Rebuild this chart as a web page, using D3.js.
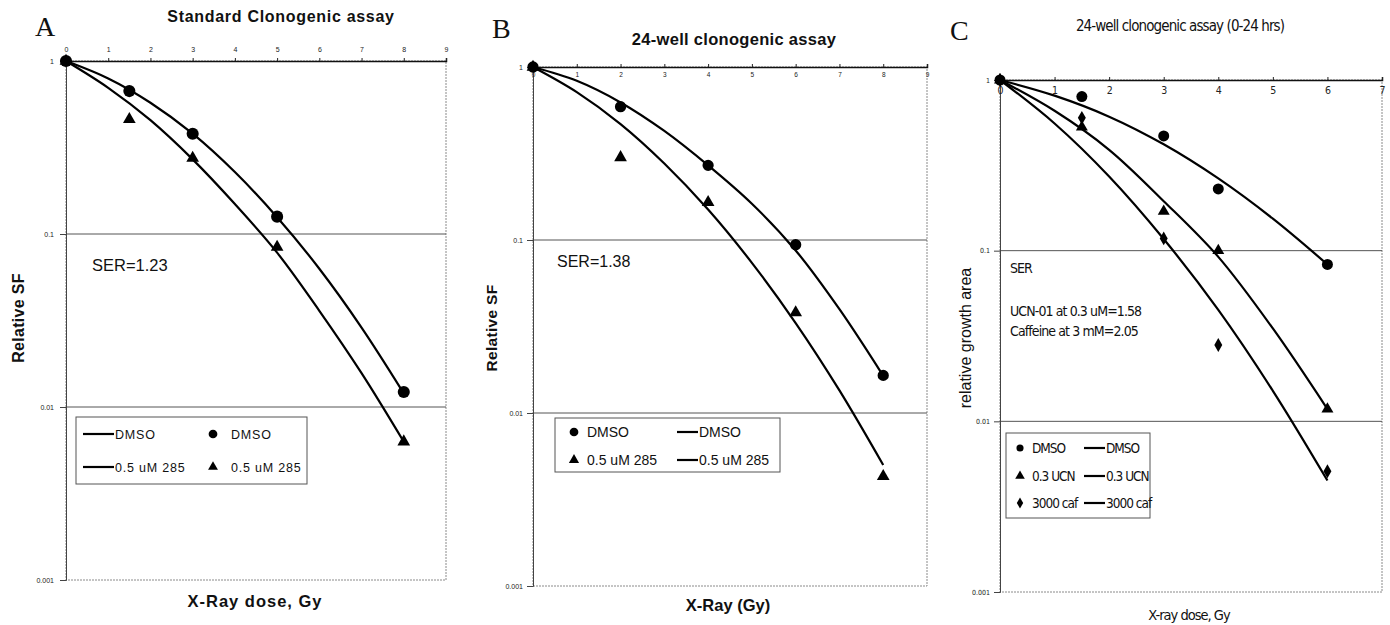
<!DOCTYPE html>
<html><head><meta charset="utf-8">
<script src="https://cdn.jsdelivr.net/npm/d3@7"></script>
<style>
body{margin:0;background:#fff;}
svg{display:block;}
</style></head>
<body>
<svg id="c" width="1390" height="625"></svg>
<script>
// ---------- DATA ----------
const yTicks = [1, 0.1, 0.01, 0.001];
const yTickLabels = ["1", "0.1", "0.01", "0.001"];

// Panel A
const xTicksA = [0,1,2,3,4,5,6,7,8,9];
const dosesA = [0, 1.5, 3, 5, 8];
const aDmso = [1, 0.67, 0.38, 0.126, 0.0122];
const a285 = [1, 0.46, 0.275, 0.084, 0.0063];
const fitDoseA = [0,1,2,3,4,5,6,7,8];
const aDmsoFit = [1, 0.793, 0.574, 0.38, 0.228, 0.125, 0.063, 0.0288, 0.012];
const a285Fit = [1, 0.70, 0.455, 0.27, 0.149, 0.078, 0.036, 0.0157, 0.0063];

// Panel B
const xTicksB = [0,1,2,3,4,5,6,7,8,9];
const dosesB = [0, 2, 4, 6, 8];
const bDmso = [1, 0.59, 0.27, 0.094, 0.0165];
const b285 = [1, 0.30, 0.165, 0.038, 0.0043];
const fitDoseB = [0,1,2,3,4,5,6,7,8];
const bDmsoFit = [1, 0.832, 0.624, 0.427, 0.27, 0.162, 0.087, 0.0398, 0.0164];
const b285Fit = [1, 0.716, 0.468, 0.277, 0.15, 0.0738, 0.0331, 0.0135, 0.005];

// Panel C
const xTicksC = [0,1,2,3,4,5,6,7];
const dosesC = [0, 1.5, 3, 4, 6];
const cDmso = [1, 0.80, 0.47, 0.23, 0.083];
const cUcn = [1, 0.53, 0.17, 0.10, 0.0118];
const cCaf = [1, 0.60, 0.118, 0.028, 0.0051];
const fitDoseC = [0,1,2,3,4,5,6];
const cDmsoFit = [1, 0.81, 0.61, 0.42, 0.265, 0.154, 0.083];
const cUcnFit = [1, 0.66, 0.39, 0.195, 0.092, 0.035, 0.0118];
const cCafFit = [1, 0.556, 0.272, 0.117, 0.045, 0.0151, 0.0045];

// ---------- DRAW ----------
const svg = d3.select("#c");
const SANS = "'Liberation Sans', Arial, sans-serif";
const NARROW = "'Liberation Sans Narrow', 'DejaVu Sans Condensed', 'Liberation Sans', sans-serif";
const SERIF = "'Liberation Serif', 'Times New Roman', serif";

const sym = {
  circle: d3.symbol().type(d3.symbolCircle),
  triangle: d3.symbol().type(d3.symbolTriangle),
  diamond: d3.symbol().type(d3.symbolDiamond)
};

function panel(cfg){
  const g = svg.append("g");
  const x = d3.scaleLinear().domain([0, cfg.xmax]).range([cfg.x0, cfg.x1]);
  const y = d3.scaleLog().domain([1, 0.001]).range([cfg.y0, cfg.y1]);

  // frame
  g.append("rect").attr("x", cfg.x0).attr("y", cfg.y0)
    .attr("width", cfg.x1-cfg.x0).attr("height", cfg.y1-cfg.y0)
    .attr("fill","none").attr("stroke","#8a8a8a").attr("stroke-width",1)
    .attr("stroke-dasharray", "2,1");
  // gridlines
  g.selectAll(".grid").data([0.1, 0.01]).join("line")
    .attr("x1", cfg.x0).attr("x2", cfg.x1)
    .attr("y1", d=>y(d)).attr("y2", d=>y(d))
    .attr("stroke","#555").attr("stroke-width",1);

  // left axis
  const ya = d3.axisLeft(y).tickValues(yTicks).tickFormat((d,i)=>yTickLabels[i])
    .tickSize(6).tickPadding(cfg.yPad);
  const yg = g.append("g").attr("transform",`translate(${cfg.x0},0)`).call(ya);
  yg.select(".domain").attr("stroke","#444");
  yg.selectAll(".tick line").attr("stroke","#444");
  yg.selectAll(".tick text").attr("font-family", cfg.tickFont).attr("font-size", cfg.yFs).attr("fill","#222");

  // top axis
  const xa = (cfg.topLabelsAbove ? d3.axisTop(x) : d3.axisBottom(x))
    .tickValues(cfg.xTicks).tickFormat(d3.format("d")).tickSize(cfg.topLabelsAbove?3:-3)
    .tickPadding(cfg.xPad);
  const xg = g.append("g").attr("transform",`translate(0,${cfg.y0})`).call(xa);
  xg.select(".domain").attr("stroke","#111").attr("stroke-width",1.5);
  xg.selectAll(".tick line").attr("stroke","#222");
  xg.selectAll(".tick text").attr("font-family", cfg.tickFont).attr("font-size", cfg.xFs).attr("fill","#222");

  // fitted curves
  const line = d3.line().x(d=>x(d[0])).y(d=>y(d[1])).curve(d3.curveCatmullRom);
  cfg.fits.forEach(f=>{
    g.append("path").datum(f.dose.map((d,i)=>[d, f.vals[i]]))
      .attr("d", line).attr("fill","none").attr("stroke","#000").attr("stroke-width",2.2);
  });
  // markers
  cfg.series.forEach(s=>{
    g.selectAll(null).data(s.dose.map((d,i)=>[d, s.vals[i]])).join("path")
      .attr("transform", d=>`translate(${x(d[0])},${y(d[1])})`)
      .attr("d", sym[s.shape].size(s.size)())
      .attr("fill","#000");
  });

  // texts
  (cfg.texts||[]).forEach(t=>{
    const el = g.append("text").attr("x", t.x).attr("y", t.y).text(t.s)
      .attr("font-family", t.font).attr("font-size", t.fs)
      .attr("font-weight", t.bold ? "bold" : "normal")
      .attr("text-anchor", t.anchor || "start").attr("fill","#111");
    if (t.ls) el.attr("letter-spacing", t.ls);
    if (t.rot) el.attr("transform", `rotate(-90,${t.x},${t.y})`);
  });

  // legend
  const L = cfg.legend;
  g.append("rect").attr("x", L.x).attr("y", L.y).attr("width", L.w).attr("height", L.h)
    .attr("fill","#fff").attr("stroke","#555").attr("stroke-width",1);
  L.items.forEach(it=>{
    if (it.type === "line"){
      g.append("line").attr("x1", it.x).attr("x2", it.x+it.len).attr("y1", it.y).attr("y2", it.y)
        .attr("stroke","#000").attr("stroke-width",2.2);
      g.append("text").attr("x", it.x+it.len+1).attr("y", it.y+L.fs*0.36).text(it.label)
        .attr("font-family", L.font).attr("font-size", L.fs).attr("fill","#111")
        .attr("letter-spacing", L.ls||0);
    } else {
      g.append("path").attr("transform",`translate(${it.x},${it.y})`)
        .attr("d", sym[it.shape].size(it.size)()).attr("fill","#000");
      g.append("text").attr("x", it.x+it.gap).attr("y", it.y+L.fs*0.36).text(it.label)
        .attr("font-family", L.font).attr("font-size", L.fs).attr("fill","#111")
        .attr("letter-spacing", L.ls||0);
    }
  });
}

// Panel A
panel({
  x0:66, x1:446, y0:61, y1:580, xmax:9, xTicks:xTicksA, topLabelsAbove:true, xPad:6,
  tickFont:SANS, xFs:7, yFs:7, yPad:6,
  fits:[{dose:fitDoseA, vals:aDmsoFit},{dose:fitDoseA, vals:a285Fit}],
  series:[{dose:dosesA, vals:aDmso, shape:"circle", size:115},
          {dose:dosesA, vals:a285, shape:"triangle", size:70}],
  texts:[
    {x:35, y:36, s:"A", font:SERIF, fs:28},
    {x:281, y:22, s:"Standard Clonogenic assay", font:SANS, fs:16, bold:true, ls:0.7, anchor:"middle"},
    {x:24, y:318, s:"Relative SF", font:SANS, fs:16, bold:true, ls:0.3, anchor:"middle", rot:true},
    {x:255, y:607, s:"X-Ray dose, Gy", font:SANS, fs:16.5, bold:true, ls:1, anchor:"middle"},
    {x:92, y:271, s:"SER=1.23", font:SANS, fs:16.5}
  ],
  legend:{x:76, y:417, w:231, h:67, font:SANS, fs:12.5, ls:0.8, items:[
    {type:"line", x:83, y:434, len:31, label:"DMSO"},
    {type:"line", x:83, y:467, len:31, label:"0.5 uM 285"},
    {type:"marker", shape:"circle", size:60, x:213, y:434, gap:18, label:"DMSO"},
    {type:"marker", shape:"triangle", size:42, x:213, y:467, gap:18, label:"0.5 uM 285"}
  ]}
});

// Panel B
panel({
  x0:533, x1:927, y0:67, y1:586, xmax:9, xTicks:xTicksB, topLabelsAbove:false, xPad:5,
  tickFont:SANS, xFs:6.5, yFs:7, yPad:4,
  fits:[{dose:fitDoseB, vals:bDmsoFit},{dose:fitDoseB, vals:b285Fit}],
  series:[{dose:dosesB, vals:bDmso, shape:"circle", size:100},
          {dose:dosesB, vals:b285, shape:"triangle", size:70}],
  texts:[
    {x:492, y:38, s:"B", font:SERIF, fs:28},
    {x:734, y:45, s:"24-well clonogenic assay", font:SANS, fs:16.5, bold:true, ls:0.3, anchor:"middle"},
    {x:497, y:328, s:"Relative SF", font:SANS, fs:15.5, bold:true, ls:0.3, anchor:"middle", rot:true},
    {x:728, y:611, s:"X-Ray (Gy)", font:SANS, fs:16.5, bold:true, anchor:"middle"},
    {x:557, y:267, s:"SER=1.38", font:SANS, fs:16}
  ],
  legend:{x:555, y:418, w:225, h:54, font:SANS, fs:14, items:[
    {type:"marker", shape:"circle", size:60, x:574, y:432, gap:13, label:"DMSO"},
    {type:"marker", shape:"triangle", size:45, x:574, y:460, gap:13, label:"0.5 uM 285"},
    {type:"line", x:677, y:432, len:21, label:"DMSO"},
    {type:"line", x:677, y:460, len:21, label:"0.5 uM 285"}
  ]}
});

// Panel C
panel({
  x0:1000, x1:1382, y0:80, y1:592, xmax:7, xTicks:xTicksC, topLabelsAbove:false, xPad:7,
  tickFont:NARROW, xFs:10.5, yFs:7, yPad:4,
  fits:[{dose:fitDoseC, vals:cDmsoFit},{dose:fitDoseC, vals:cUcnFit},{dose:fitDoseC, vals:cCafFit}],
  series:[{dose:dosesC, vals:cDmso, shape:"circle", size:95},
          {dose:dosesC, vals:cUcn, shape:"triangle", size:62},
          {dose:dosesC, vals:cCaf, shape:"diamond", size:55}],
  texts:[
    {x:950, y:40, s:"C", font:SERIF, fs:28},
    {x:1180, y:31, s:"24-well clonogenic assay (0-24 hrs)", font:NARROW, fs:15, ls:-0.9, anchor:"middle"},
    {x:971, y:338, s:"relative growth area", font:SANS, fs:16, anchor:"middle", rot:true},
    {x:1189, y:620, s:"X-ray dose, Gy", font:NARROW, fs:14.5, ls:-1, anchor:"middle"},
    {x:1010, y:273, s:"SER", font:NARROW, fs:14, ls:-1},
    {x:1010, y:316, s:"UCN-01 at 0.3 uM=1.58", font:NARROW, fs:14, ls:-0.9},
    {x:1010, y:336, s:"Caffeine at  3 mM=2.05", font:NARROW, fs:14, ls:-0.9}
  ],
  legend:{x:1006, y:433, w:144, h:85, font:NARROW, fs:13.5, ls:-1, items:[
    {type:"marker", shape:"circle", size:40, x:1020, y:448, gap:12, label:"DMSO"},
    {type:"marker", shape:"triangle", size:40, x:1020, y:476, gap:12, label:"0.3 UCN"},
    {type:"marker", shape:"diamond", size:35, x:1020, y:503, gap:12, label:"3000 caf"},
    {type:"line", x:1084, y:448, len:21, label:"DMSO"},
    {type:"line", x:1084, y:476, len:21, label:"0.3 UCN"},
    {type:"line", x:1084, y:503, len:21, label:"3000 caf"}
  ]}
});
</script>
</body></html>
